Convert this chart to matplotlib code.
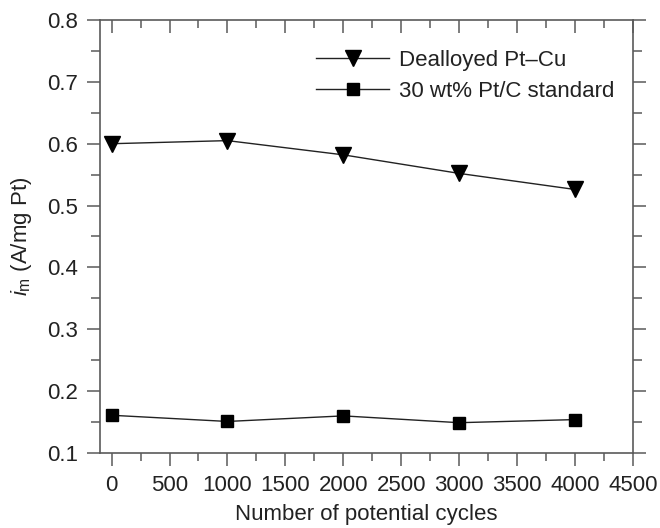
import matplotlib
matplotlib.use("Agg")
import matplotlib.pyplot as plt
from matplotlib.ticker import MultipleLocator

plt.rcParams["font.family"] = ["Liberation Sans", "DejaVu Sans"]
plt.rcParams["mathtext.fontset"] = "custom"
plt.rcParams["mathtext.rm"] = "Liberation Sans"
plt.rcParams["mathtext.it"] = "Liberation Sans:italic"

cycles = [0, 1000, 2000, 3000, 4000]
dealloyed = [0.600, 0.605, 0.582, 0.552, 0.526]
ptc_standard = [0.161, 0.151, 0.160, 0.149, 0.154]
labels = ["Dealloyed Pt\u2013Cu", "30 wt% Pt/C standard"]

fs = 16
text_c = "#222222"
spine_c = "#5a5a5a"

fig = plt.figure(figsize=(6.6, 5.28), dpi=100)
ax = fig.add_axes([100 / 660, 1 - 453 / 528, 533 / 660, 433 / 528])

ax.plot(cycles, dealloyed, color=text_c, lw=1.0, marker="v", ms=11,
        mfc="black", mec="black", label=labels[0])
ax.plot(cycles, ptc_standard, color=text_c, lw=1.0, marker="s", ms=8.5,
        mfc="black", mec="black", label=labels[1])

ax.set_xlim(-100, 4500)
ax.set_ylim(0.1, 0.8)
ax.xaxis.set_major_locator(MultipleLocator(500))
ax.xaxis.set_minor_locator(MultipleLocator(250))
ax.yaxis.set_major_locator(MultipleLocator(0.1))
ax.yaxis.set_minor_locator(MultipleLocator(0.05))

for s in ax.spines.values():
    s.set_color(spine_c)
    s.set_linewidth(1.2)

ax.tick_params(axis="both", which="both", direction="out", color=spine_c,
               width=1.1, labelsize=fs, labelcolor=text_c)
ax.tick_params(axis="y", which="both", right=True)
ax.tick_params(axis="y", which="major", length=9.5, pad=6)
ax.tick_params(axis="y", which="minor", length=6.5)
ax.tick_params(axis="x", which="major", length=9, pad=6.5)
ax.tick_params(axis="x", which="minor", length=5.5)

# top axis: ticks pointing inward, no labels
top = ax.twiny()
top.set_xlim(ax.get_xlim())
top.xaxis.set_major_locator(MultipleLocator(500))
top.xaxis.set_minor_locator(MultipleLocator(250))
top.tick_params(axis="x", which="both", direction="in", color=spine_c,
                width=1.1, labeltop=False)
top.tick_params(axis="x", which="major", length=9)
top.tick_params(axis="x", which="minor", length=5.5)
for s in top.spines.values():
    s.set_visible(False)

ax.set_xlabel("Number of potential cycles", fontsize=fs, color=text_c,
              labelpad=6)
ax.set_ylabel(r"$i_{\rm m}$ (A/mg Pt)", fontsize=fs, color=text_c,
              labelpad=10)

leg = ax.legend(loc="upper left", bbox_to_anchor=(0.372, 0.972), frameon=False,
                fontsize=fs, handlelength=3.3, handletextpad=0.45,
                labelspacing=0.45, borderaxespad=0.4)
for txt in leg.get_texts():
    txt.set_color(text_c)

fig.savefig("out.png", dpi=100)
